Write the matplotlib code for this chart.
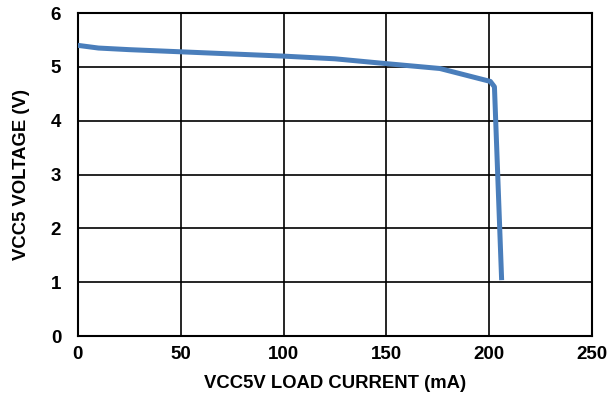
import matplotlib.pyplot as plt

plt.rcParams['font.family'] = ['Liberation Sans', 'DejaVu Sans']

# VCC5 output voltage vs load current
load_ma = [0, 10, 25, 50, 75, 100, 125, 150, 176, 200.5, 202.5, 206]
vcc5_v = [5.40, 5.35, 5.32, 5.28, 5.24, 5.20, 5.15, 5.06, 4.97, 4.73, 4.63, 1.04]

xticks = [0, 50, 100, 150, 200, 250]
yticks = [0, 1, 2, 3, 4, 5, 6]

fig = plt.figure(figsize=(6.13, 3.95), dpi=100)
ax = fig.add_axes([0.127, 0.149, 0.839, 0.818])

ax.plot(load_ma, vcc5_v, color='#4a7ebb', linewidth=3.6, solid_joinstyle='round',
        solid_capstyle='butt', zorder=3)

ax.set_xlim(0, 250)
ax.set_ylim(0, 6)
ax.set_xticks(xticks)
ax.set_yticks(yticks)
ax.grid(True, color='black', linewidth=1.2)
ax.tick_params(length=0, labelsize=13.5)
ax.tick_params(axis='x', pad=7)
ax.tick_params(axis='y', pad=12)
for lbl in ax.get_xticklabels() + ax.get_yticklabels():
    lbl.set_fontweight('bold')
for sp in ax.spines.values():
    sp.set_color('black')
    sp.set_linewidth(1.5)

ax.set_xlabel('VCC5V LOAD CURRENT (mA)', fontsize=13.3, fontweight='bold', labelpad=9)
ax.set_ylabel('VCC5 VOLTAGE (V)', fontsize=13.3, fontweight='bold', labelpad=15)

fig.savefig('out.png', dpi=100)
